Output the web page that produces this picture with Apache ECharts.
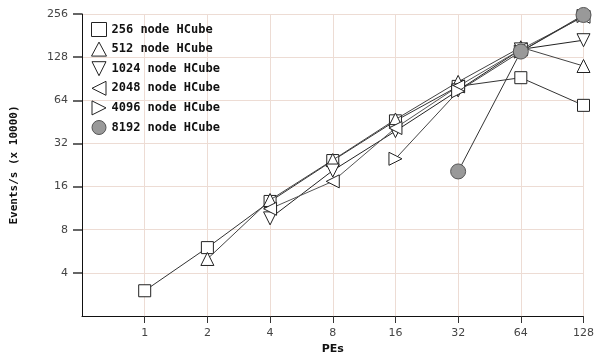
<!DOCTYPE html>
<html>
<head>
<meta charset="utf-8">
<script src="https://cdn.jsdelivr.net/npm/echarts@6/dist/echarts.min.js"></script>
<style>
  html, body { margin: 0; padding: 0; background: #fff; }
  #main { width: 597px; height: 360px; }
</style>
</head>
<body>
<div id="main"></div>
<script>
// PEs on x, events/s (x 10000) on y, one array per HCube size
var pes = [1, 2, 4, 8, 16, 32, 64, 128];
var names = ['256 node HCube', '512 node HCube', '1024 node HCube',
             '2048 node HCube', '4096 node HCube', '8192 node HCube'];
var hc256  = [3.0, 6.0, 12.6, 24.3, 46, 80, 92, 59];
var hc512  = [null, 5.0, 12.9, 24.5, 47, 86, 150, 111];
var hc1024 = [null, null, 9.6, 20.7, 39, 75, 145, 168];
var hc2048 = [null, null, 11.2, 17.4, 41, 80, 145, 245];
var hc4096 = [null, null, null, null, 25, 74, 140, 248];
var hc8192 = [null, null, null, null, null, 20.4, 140, 252];
var yTicks = [2, 4, 8, 16, 32, 64, 128, 256];

var symbols = ['rect', 'triangle',
  'path://M0,0 L10,0 L5,10 Z',
  'path://M10,0 L10,10 L0,5 Z',
  'path://M0,0 L10,5 L0,10 Z',
  'circle'];
var lineColors = ['#333', '#444', '#222', '#555', '#444', '#333'];
var allData = [hc256, hc512, hc1024, hc2048, hc4096, hc8192];

function pairs(arr) {
  var out = [];
  arr.forEach(function (v, i) {
    if (v != null) out.push([pes[i], v]);
  });
  return out;
}

var series = allData.map(function (arr, i) {
  var isCircle = i == 5;
  return {
    name: names[i],
    type: 'line',
    data: pairs(arr),
    symbol: symbols[i],
    symbolSize: isCircle ? 15 : (i == 0 ? 12 : 13),
    showAllSymbol: true,
    z: 2 + i,
    lineStyle: { color: lineColors[i], width: 1 },
    itemStyle: {
      color: isCircle ? '#999' : '#fff',
      borderColor: isCircle ? '#555' : '#222',
      borderWidth: 1
    },
    emphasis: { disabled: true },
    animation: false
  };
});

var labelFont = { color: '#444', fontSize: 11, fontFamily: 'DejaVu Sans' };

var myChart = echarts.init(document.getElementById('main'));
var option = {
  backgroundColor: '#fff',
  animation: false,
  grid: { left: 82, right: 9, top: 14, bottom: 42 },
  legend: {
    orient: 'vertical',
    left: 86,
    top: 17,
    itemGap: 4.6,
    itemWidth: 15,
    itemHeight: 14,
    textStyle: { fontFamily: 'DejaVu Sans Mono', fontWeight: 'bold', fontSize: 12, lineHeight: 14, color: '#111' },
    data: names.map(function (n, i) {
      return {
        name: n,
        icon: symbols[i],
        itemStyle: {
          color: i == 5 ? '#999' : '#fff',
          borderColor: i == 5 ? '#555' : '#222',
          borderWidth: 1
        }
      };
    })
  },
  xAxis: {
    type: 'log',
    logBase: 2,
    min: 0.5,
    max: 128,
    name: 'PEs',
    nameLocation: 'middle',
    nameGap: 28,
    nameTextStyle: { fontFamily: 'DejaVu Sans', fontWeight: 'bold', fontSize: 11, color: '#111' },
    axisLine: { lineStyle: { color: '#111', width: 1 } },
    axisTick: { length: 7, lineStyle: { color: '#333' } },
    axisLabel: Object.assign({ showMinLabel: false, margin: 12 }, labelFont),
    splitLine: { show: true, lineStyle: { color: '#eddcd4', width: 1 } }
  },
  yAxis: {
    type: 'log',
    logBase: 2,
    min: yTicks[0],
    max: yTicks[yTicks.length - 1],
    name: 'Events/s (x 10000)',
    nameLocation: 'middle',
    nameGap: 62,
    nameTextStyle: { fontFamily: 'DejaVu Sans Mono', fontWeight: 'bold', fontSize: 11, color: '#111' },
    axisLine: { show: true, lineStyle: { color: '#111', width: 1 } },
    axisTick: { show: true, length: 9, lineStyle: { color: '#666', width: 2 } },
    axisLabel: Object.assign({ showMinLabel: false, margin: 14 }, labelFont),
    splitLine: { show: true, lineStyle: { color: '#eddcd4', width: 1 } }
  },
  series: series
};
myChart.setOption(option);
</script>
</body>
</html>
